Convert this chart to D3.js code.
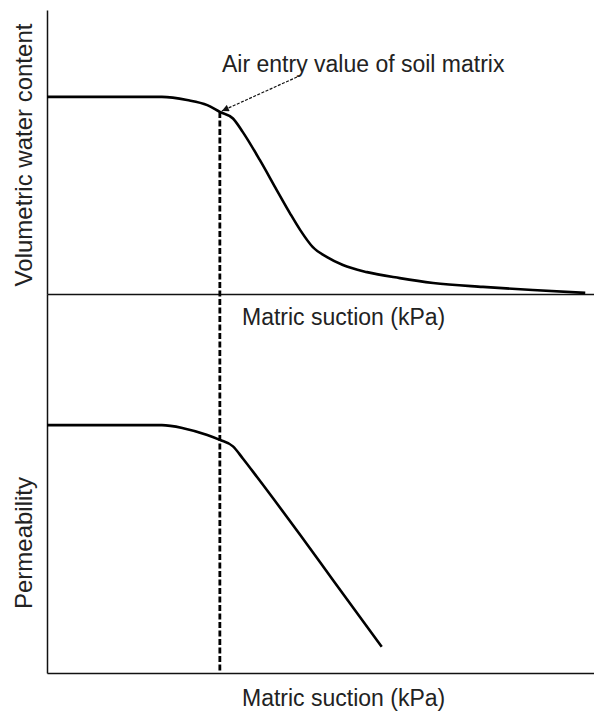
<!DOCTYPE html>
<html>
<head>
<meta charset="utf-8">
<script src="https://cdn.jsdelivr.net/npm/d3@7"></script>
<style>
  body { margin: 0; background: #fff; }
  text { font-family: Arial, "Liberation Sans", sans-serif; fill: #222; }
</style>
</head>
<body>
<div id="chart"></div>
<script>
// matric suction (relative units, 0-100) and curve values
const wcSuction = [0, 21.0, 25.6, 29.3, 31.6, 34.0, 35.8, 38.9, 42.0, 44.4, 46.3, 48.6, 51.2, 54.1, 58.5, 64.5, 70.6, 79.7, 88.8, 98.4];
const wcValues  = [0.694, 0.694, 0.683, 0.665, 0.641, 0.618, 0.570, 0.472, 0.366, 0.285, 0.225, 0.165, 0.130, 0.102, 0.077, 0.056, 0.039, 0.025, 0.014, 0.004];

const permSuction = [0, 21.0, 24.9, 29.3, 31.6, 34.0, 35.8, 38.4, 46.3, 52.3, 61.2];
const permValues  = [0.654, 0.654, 0.646, 0.628, 0.615, 0.598, 0.566, 0.517, 0.364, 0.245, 0.069];

const airEntry = 31.6;
const airEntryWc = 0.641;

const axisLabels = {
  x: 'Matric suction (kPa)',
  yTop: 'Volumetric water content',
  yBottom: 'Permeability',
  note: 'Air entry value of soil matrix'
};

const width = 594, height = 711;

const svg = d3.select('#chart')
  .append('svg')
  .attr('width', width)
  .attr('height', height);

svg.append('defs').append('marker')
  .attr('id', 'arrow')
  .attr('viewBox', '0 0 10 10')
  .attr('refX', 10).attr('refY', 5)
  .attr('markerWidth', 9).attr('markerHeight', 7)
  .attr('markerUnits', 'userSpaceOnUse')
  .attr('orient', 'auto')
  .append('path')
  .attr('d', 'M0,0 L10,5 L0,10 z')
  .attr('fill', '#111');

// Scales
const x = d3.scaleLinear().domain([0, 100]).range([47, 594]);
const yTop = d3.scaleLinear().domain([0, 1]).range([294, 10]);
const yBottom = d3.scaleLinear().domain([0, 1]).range([673, 294]);

// Axes (no ticks, just the lines)
svg.append('g')
  .attr('transform', `translate(0,${yTop(0)})`)
  .call(d3.axisBottom(x).ticks(0).tickSizeOuter(0));
svg.append('g')
  .attr('transform', `translate(0,${yBottom(0)})`)
  .call(d3.axisBottom(x).ticks(0).tickSizeOuter(0));
svg.append('g')
  .attr('transform', `translate(${x(0)},0)`)
  .call(d3.axisLeft(yTop).ticks(0).tickSizeOuter(0));
svg.append('g')
  .attr('transform', `translate(${x(0)},0)`)
  .call(d3.axisLeft(yBottom).ticks(0).tickSizeOuter(0));

svg.selectAll('.domain')
  .attr('stroke', '#111')
  .attr('stroke-width', 1.5);

// Curves
const lineTop = d3.line()
  .x(d => x(d[0]))
  .y(d => yTop(d[1]))
  .curve(d3.curveMonotoneX);

const lineBottom = d3.line()
  .x(d => x(d[0]))
  .y(d => yBottom(d[1]))
  .curve(d3.curveMonotoneX);

svg.append('path')
  .datum(d3.zip(wcSuction, wcValues))
  .attr('d', lineTop)
  .attr('fill', 'none')
  .attr('stroke', '#000')
  .attr('stroke-width', 2.6);

svg.append('path')
  .datum(d3.zip(permSuction, permValues))
  .attr('d', lineBottom)
  .attr('fill', 'none')
  .attr('stroke', '#000')
  .attr('stroke-width', 2.6);

// Air entry dashed line
svg.append('line')
  .attr('x1', x(airEntry)).attr('x2', x(airEntry))
  .attr('y1', yTop(airEntryWc)).attr('y2', yBottom(0))
  .attr('stroke', '#000')
  .attr('stroke-width', 2.8)
  .attr('stroke-dasharray', '6,2.5');

// Annotation
svg.append('text')
  .attr('x', 222)
  .attr('y', 72)
  .style('font-size', '23px')
  .text(axisLabels.note);

svg.append('line')
  .attr('x1', 297).attr('y1', 77)
  .attr('x2', x(airEntry) + 2).attr('y2', yTop(airEntryWc) - 1)
  .attr('stroke', '#111')
  .attr('stroke-width', 1.2)
  .attr('stroke-dasharray', '3,1.5')
  .attr('marker-end', 'url(#arrow)');

// Axis titles
svg.append('text')
  .attr('x', 242).attr('y', 325)
  .style('font-size', '23px')
  .text(axisLabels.x);

svg.append('text')
  .attr('x', 242).attr('y', 706)
  .style('font-size', '23px')
  .text(axisLabels.x);

svg.append('text')
  .attr('transform', `translate(32,${(yTop(0) + yTop(1)) / 2 + 3}) rotate(-90)`)
  .attr('text-anchor', 'middle')
  .style('font-size', '24px')
  .text(axisLabels.yTop);

svg.append('text')
  .attr('transform', `translate(32,543) rotate(-90)`)
  .attr('text-anchor', 'middle')
  .style('font-size', '24px')
  .text(axisLabels.yBottom);
</script>
</body>
</html>
